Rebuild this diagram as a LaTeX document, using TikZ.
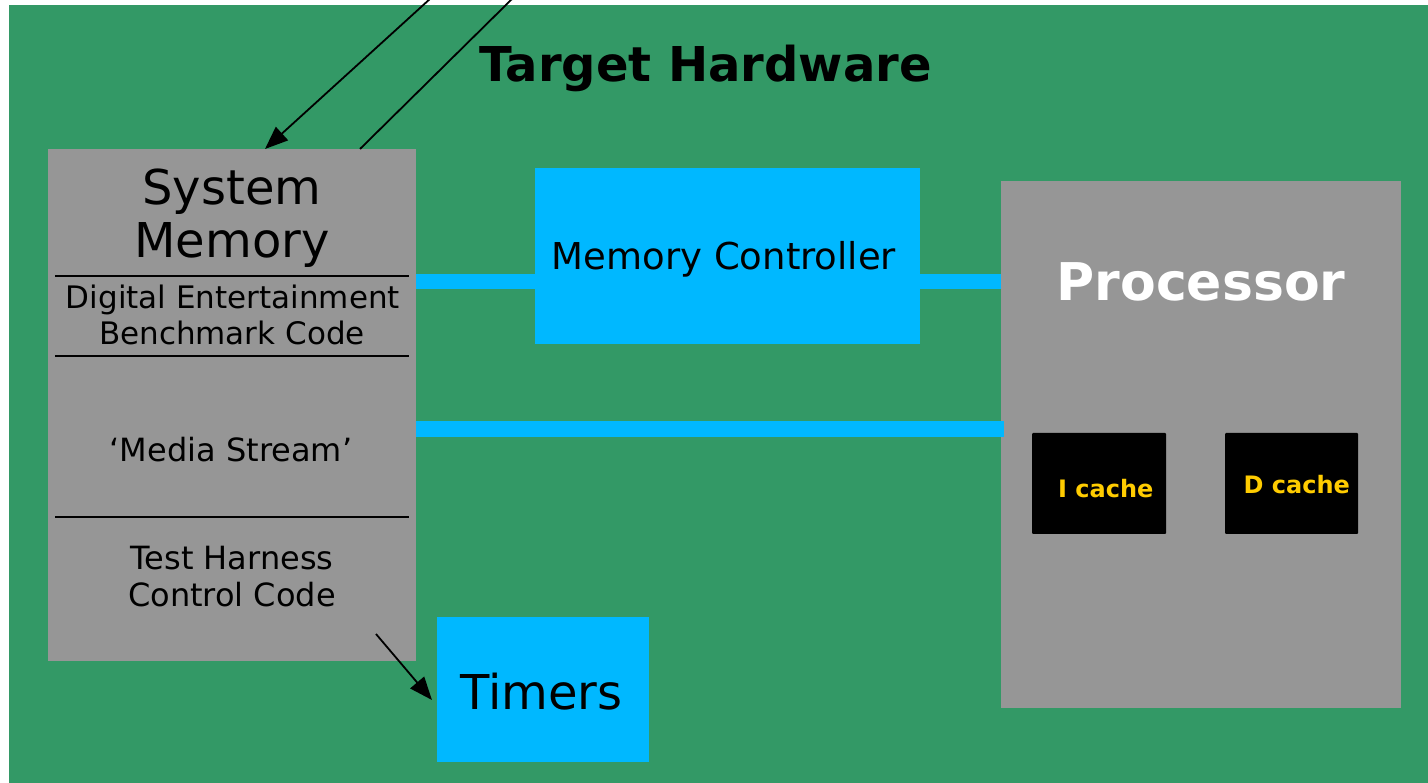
\documentclass[tikz,border=0pt]{standalone}
\usepackage{fontspec}
\setmainfont{DejaVu Sans}
\usetikzlibrary{arrows.meta}
\definecolor{bggreen}{RGB}{51,153,102}
\definecolor{boxgrey}{RGB}{150,150,150}
\definecolor{busblue}{RGB}{0,184,255}
\definecolor{cacheyellow}{RGB}{255,204,0}
\newcommand{\fs}[1]{\fontsize{#1}{1.2\dimexpr#1pt\relax}\selectfont}
\tikzset{
  block/.style={rectangle, inner sep=0pt, outer sep=0pt, draw=none},
  greybox/.style={block, fill=boxgrey},
  bluebox/.style={block, fill=busblue},
  cachebox/.style={block, fill=black, rounded corners=1pt},
  bus/.style={draw=busblue, line width=15pt},
  sep/.style={draw=black, line width=1.5pt},
  wire/.style={draw=black, line width=1.8pt},
  arr/.style={wire, -{Triangle[length=23pt,width=18pt]}},
  lbl/.style={inner sep=0pt, anchor=base, text=black},
}
\begin{document}
\begin{tikzpicture}[x=1pt,y=-1pt]
\useasboundingbox (0,0) rectangle (1428,783);
\fill[white] (0,0) rectangle (1428,783);
\fill[bggreen] (9,5) rectangle (1428,783);

\node[lbl, font=\fs{48}\bfseries] (title) at (705.5,81.7) {Target Hardware};

% nodes
\node[greybox, minimum width=368pt, minimum height=512pt] (sysmem) at (232,405) {};
\node[bluebox, minimum width=385pt, minimum height=176pt] (mc) at (727.5,256) {};
\node[greybox, minimum width=400pt, minimum height=527pt] (proc) at (1201,444.5) {};
\node[bluebox, minimum width=212pt, minimum height=145pt] (timers) at (543,689.5) {};

% buses
\coordinate (b1s) at (sysmem.east |- 0,281.5);
\draw[bus] (b1s) -- (b1s -| mc.west);
\draw[bus] (mc.east |- b1s) -- (proc.west |- b1s);

\node[cachebox, minimum width=134pt, minimum height=101pt] (icache) at (1099,483.5) {};
\node[cachebox, minimum width=133pt, minimum height=101pt] (dcache) at (1291.5,483.5) {};

\coordinate (b2s) at (sysmem.east |- 0,429);
\draw[bus, line width=16pt] (b2s) -- ([xshift=3pt]proc.west |- b2s);

% labels
\node[lbl, font=\fs{37}] (mctext) at (724,270) {Memory Controller};
\node[lbl, font=\fs{52}\bfseries, text=white] (proctext) at (1201,301) {Processor};
\node[lbl, font=\fs{24}\bfseries, text=cacheyellow] (ictext) at (1105.7,497.3) {I cache};
\node[lbl, font=\fs{24}\bfseries, text=cacheyellow] (dctext) at (1296.7,494) {D cache};
\node[lbl, font=\fs{48}] (timtext) at (541.5,709) {Timers};

\node[lbl, font=\fs{48}] (smtext1) at (232,205) {System};
\node[lbl, font=\fs{48}] (smtext2) at (232,258) {Memory};
\node[lbl, font=\fs{31}] (detext1) at (233,308.3) {Digital Entertainment};
\node[lbl, font=\fs{31}] (detext2) at (232,345) {Benchmark Code};
\node[lbl, font=\fs{32}] (mstext) at (231,461.7) {‘Media Stream’};
\node[lbl, font=\fs{32}] (thtext1) at (232,569) {Test Harness};
\node[lbl, font=\fs{32}] (thtext2) at (232,606.7) {Control Code};

\draw[sep] (55,276) -- (409,276);
\draw[sep] (55,356) -- (409,356);
\draw[sep] (55,517) -- (409,517);

% connectors
\coordinate (in1) at (431,-2);
\coordinate (in2) at (513,-2);
\draw[arr] (in1) -- ([xshift=33pt]sysmem.north);
\draw[wire] (in2) -- ([xshift=128pt]sysmem.north);
\coordinate (tstart) at (376,634);
\draw[arr] (tstart) -- ([xshift=-5pt,yshift=-10.5pt]timers.west);
\end{tikzpicture}
\end{document}
